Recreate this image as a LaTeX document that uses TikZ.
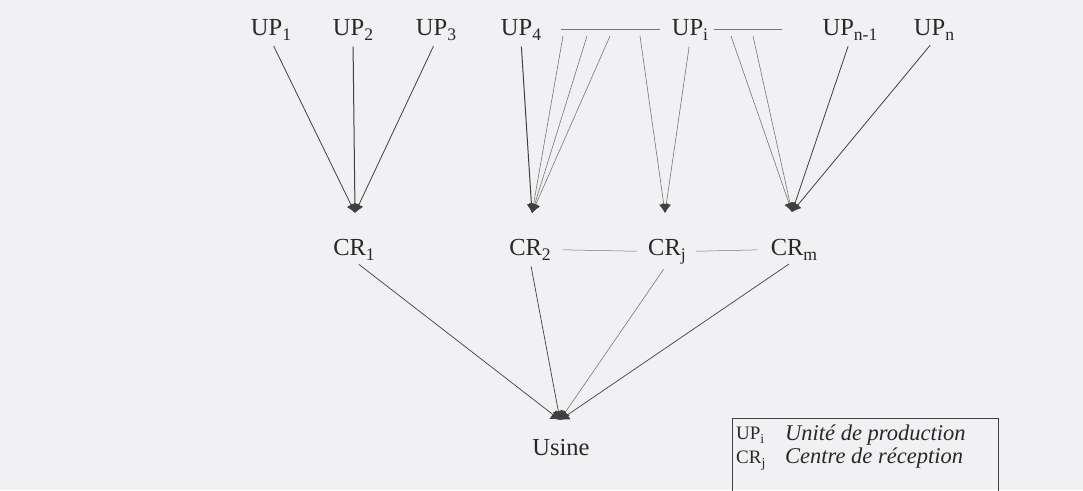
\documentclass[tikz,border=0pt]{standalone}
\usepackage{fontspec}
\setmainfont{Liberation Serif}
\usetikzlibrary{arrows.meta}
\definecolor{paper}{HTML}{F1F1F3}
\definecolor{ink}{HTML}{404040}
\definecolor{inktext}{HTML}{282828}
\definecolor{inklight}{HTML}{777777}
\newcommand\lsub[1]{\raisebox{-0.22em}{\scalebox{0.72}{#1}}}
\begin{document}
\begin{tikzpicture}[x=1pt,y=-1pt,
  lbl/.style={inner sep=0pt, anchor=base, text=inktext, font=\fontsize{24.5}{28}\selectfont},
  feed/.style={draw=ink, line width=0.8pt, shorten <=6pt, -{Latex[length=9pt,width=9.5pt,color=ink]}},
  feedlight/.style={feed, draw=inklight, line width=0.6pt, shorten <=0pt},
  toplant/.style={draw=ink, line width=0.7pt, shorten <=6pt, -{Latex[length=9pt,width=11pt,color=ink]}},
  link/.style={draw=inklight, line width=0.5pt},
  legkey/.style={inner sep=0pt, anchor=base west, text=inktext, font=\fontsize{19}{22}\selectfont},
  legtxt/.style={inner sep=0pt, anchor=base west, text=inktext, font=\fontsize{22.5}{26}\selectfont\itshape},
  legbox/.style={draw=ink, line width=0.8pt}]
\useasboundingbox (0,0) rectangle (1083,490);
\clip (0,0) rectangle (1083,490);
\fill[paper] (0,0) rectangle (1083,490);

% production units
\node[lbl] (up1) at (271,35) {UP\lsub{1}};
\node[lbl] (up2) at (353,35) {UP\lsub{2}};
\node[lbl] (up3) at (436,35) {UP\lsub{3}};
\node[lbl] (up4) at (521,35) {UP\lsub{4}};
\node[lbl] (upi) at (690,35) {UP\lsub{i}};
\node[lbl] (upn1) at (850,35) {UP\lsub{n-1}};
\node[lbl] (upn) at (934,35) {UP\lsub{n}};

% reception centres
\node[lbl] (cr1) at (354,255) {CR\lsub{1}};
\node[lbl] (cr2) at (530,255) {CR\lsub{2}};
\node[lbl] (crj) at (667,255) {CR\lsub{j}};
\node[lbl] (crm) at (794,255) {CR\lsub{m}};

% plant
\node[lbl] (usine) at (561,455) {Usine};

% arrow tips
\coordinate (t1) at (355,213);
\coordinate (t2) at (532,213);
\coordinate (tj) at (665,213);
\coordinate (tm) at (792,212);
\coordinate (tu) at (560,420);

% unlabeled units along the dotted lines
\coordinate (a1) at (563,36);
\coordinate (a2) at (587,36);
\coordinate (a3) at (610,36);
\coordinate (a4) at (640,36);
\coordinate (b1) at (731,36);
\coordinate (b2) at (753,36);

% dotted continuation lines
\draw[link] (up4.east) -- (upi.west) [shorten <=20pt, shorten >=12pt];
\draw[link] (upi.east) -- (upn1.west) [shorten <=6pt, shorten >=40pt];
\draw[link] (cr2.east) -- (crj.west) [shorten <=12pt, shorten >=11pt];
\draw[link] (crj.east) -- (crm.west) [shorten <=10pt, shorten >=13pt];

% UP -> CR
\draw[feed] (up1.south) -- (t1);
\draw[feed, line width=1pt] (up2.south) -- (t1);
\draw[feed] (up3.south) -- (t1);
\draw[feed, line width=1pt] (up4.south) -- (t2);
\draw[feedlight] (a1) -- (t2);
\draw[feedlight] (a2) -- (t2);
\draw[feedlight] (a3) -- (t2);
\draw[feedlight] (a4) -- (tj);
\draw[feedlight, shorten <=6pt] (upi.south) -- (tj);
\draw[feedlight] (b1) -- (tm);
\draw[feedlight] (b2) -- (tm);
\draw[feed] (upn1.south) -- (tm);
\draw[feed] (upn.south) -- (tm);

% CR -> Usine
\draw[toplant] (cr1.south) -- (tu);
\draw[toplant] (cr2.south) -- (tu);
\draw[toplant, draw=inklight, line width=0.6pt] (crj.south) -- (tu);
\draw[toplant] (crm.south) -- (tu);

% legend
\draw[legbox] (732,418) rectangle (998,520);
\node[legkey] (k1) at (736,439) {UP\lsub{i}};
\node[legtxt] (d1) at (785,440) {Unité de production};
\node[legkey] (k2) at (736,463) {CR\lsub{j}};
\node[legtxt] (d2) at (785,463) {Centre de réception};
\end{tikzpicture}
\end{document}
